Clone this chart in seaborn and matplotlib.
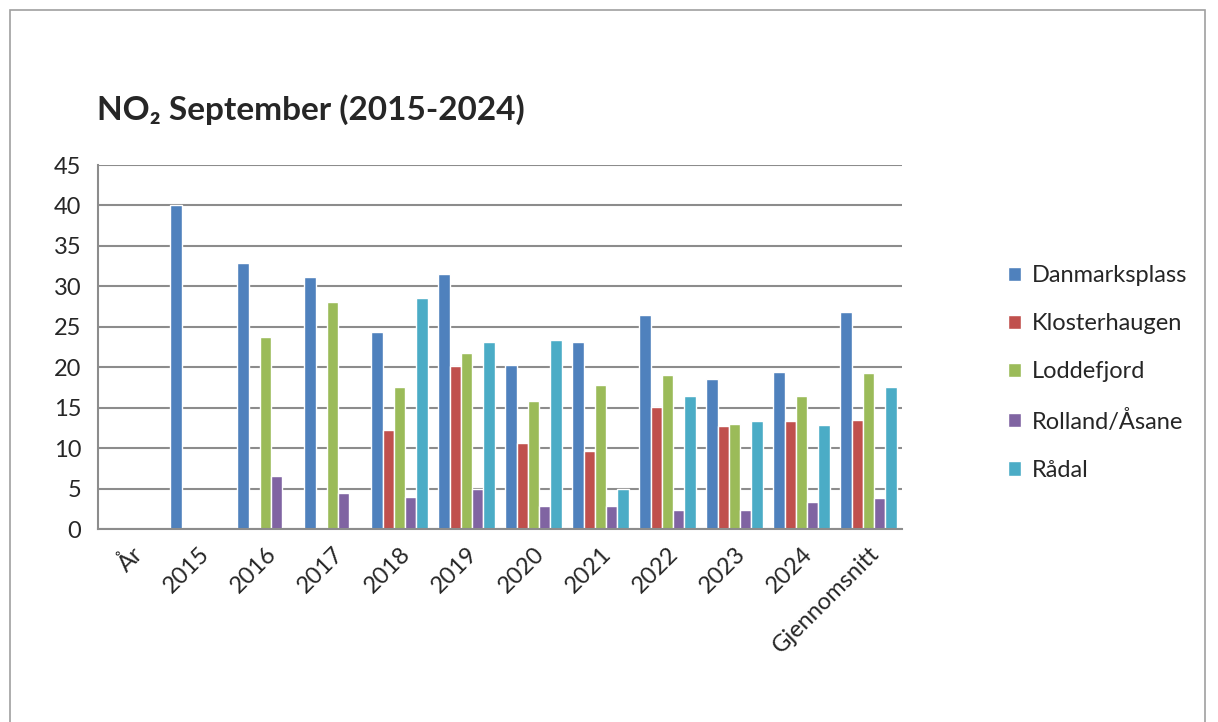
import numpy as np
import pandas as pd
import seaborn as sns
import matplotlib.pyplot as plt
from matplotlib.patches import Rectangle

# Data (NO2, September)
categories = ['År', '2015', '2016', '2017', '2018', '2019', '2020', '2021',
              '2022', '2023', '2024', 'Gjennomsnitt']
stations = ['Danmarksplass', 'Klosterhaugen', 'Loddefjord', 'Rolland/Åsane', 'Rådal']

danmarksplass = [np.nan, 40.1, 32.9, 31.1, 24.3, 31.5, 20.3, 23.1, 26.4, 18.6, 19.4, 26.8]
klosterhaugen = [np.nan, np.nan, np.nan, np.nan, 12.3, 20.1, 10.6, 9.7, 15.1, 12.7, 13.3, 13.45]
loddefjord = [np.nan, np.nan, 23.7, 28.05, 17.5, 21.7, 15.8, 17.8, 19.1, 12.95, 16.5, 19.3]
rolland = [np.nan, np.nan, 6.5, 4.5, 3.9, 5.0, 2.8, 2.8, 2.3, 2.4, 3.3, 3.8]
raadal = [np.nan, np.nan, np.nan, np.nan, 28.5, 23.1, 23.35, 5.0, 16.5, 13.3, 12.8, 17.5]

colors = ['#4F81BD', '#C0504D', '#9BBB59', '#8064A2', '#4BACC6']

series = [danmarksplass, klosterhaugen, loddefjord, rolland, raadal]
rows = []
for name, vals in zip(stations, series):
    for cat, v in zip(categories, vals):
        rows.append({'kategori': cat, 'stasjon': name, 'verdi': v})
df = pd.DataFrame(rows)

sns.set_style('white')
plt.rcParams['font.family'] = ['Lato', 'DejaVu Sans']

fig = plt.figure(figsize=(12.18, 7.22), dpi=100)
ax = fig.add_axes([98 / 1218, 1 - 529 / 722, 804 / 1218, 364 / 722])

sns.barplot(data=df, x='kategori', y='verdi', hue='stasjon', order=categories,
            hue_order=stations, palette=colors, width=0.84, saturation=1,
            errorbar=None, ax=ax)

handles, labels = ax.get_legend_handles_labels()
ax.get_legend().remove()

ax.set_xlim(-0.5, len(categories) - 0.5)
ax.set_ylim(0, 45)
ax.set_yticks(np.arange(0, 46, 5))
ax.yaxis.grid(True, color='#8c8c8c', linewidth=1.5)
ax.set_axisbelow(True)
ax.set_xlabel('')
ax.set_ylabel('')

for s in ['top', 'right']:
    ax.spines[s].set_visible(False)
for s in ['left', 'bottom']:
    ax.spines[s].set_color('#8c8c8c')
    ax.spines[s].set_linewidth(1.5)

ax.set_xticks(np.arange(-0.5, len(categories), 1), minor=True)
ax.tick_params(axis='x', which='major', length=0, pad=10)
ax.tick_params(axis='x', which='minor', length=6, width=1.5, color='#8c8c8c', direction='out')
ax.tick_params(axis='y', length=6, width=1.5, color='#8c8c8c', direction='out',
               labelsize=17, pad=6)
ax.tick_params(axis='x', labelsize=17)
plt.setp(ax.get_xticklabels(), rotation=45, ha='right', rotation_mode='anchor')

fig.text(97 / 1218, 1 - 110 / 722, 'NO₂ September (2015-2024)', fontsize=24,
         fontweight='bold', va='center', ha='left')

fig.legend(handles, labels, loc='center left', bbox_to_anchor=(996 / 1218, 1 - 373 / 722),
           frameon=False, fontsize=17, labelspacing=1.15, handlelength=0.55,
           handleheight=0.55, handletextpad=0.45, borderpad=0)

fig.patches.append(Rectangle((10 / 1218, -0.05), 1195 / 1218, 1.05 - 10 / 722,
                             transform=fig.transFigure, fill=False,
                             edgecolor='#a0a0a0', linewidth=1.2))

fig.savefig('out.png', dpi=100)
plt.close()
